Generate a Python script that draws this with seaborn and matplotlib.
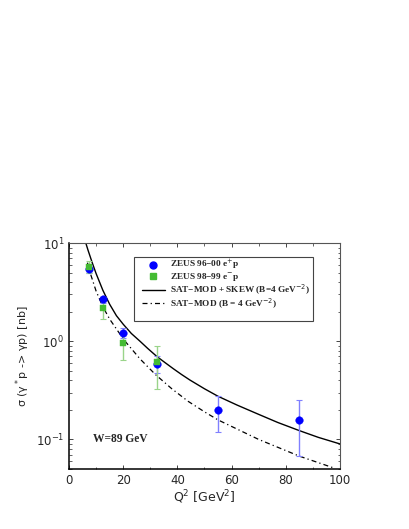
import numpy as np
import pandas as pd
import matplotlib
matplotlib.use('Agg')
import matplotlib.pyplot as plt
import seaborn as sns
from matplotlib.patches import Rectangle
from matplotlib.lines import Line2D

# ZEUS 96-00 e+p data
q2_a = [7.5, 12.5, 20.0, 32.5, 55.0, 85.0]
sig_a = [5.45, 2.68, 1.22, 0.585, 0.199, 0.159]
sig_a_lo = [4.95, 2.47, 1.08, 0.47, 0.12, 0.0685]
sig_a_hi = [5.95, 2.83, 1.37, 0.70, 0.279, 0.25]

# ZEUS 98-99 e-p data
q2_b = [7.5, 12.5, 20.0, 32.5]
sig_b = [5.75, 2.18, 0.96, 0.61]
sig_b_lo = [5.0, 1.70, 0.65, 0.33]
sig_b_hi = [6.6, 2.79, 1.22, 0.89]

# model curves
q2_skew = [6.2, 7.0, 8.6, 10.0, 12.5, 15.0, 17.5, 20.0, 23.0, 26.2, 29.0, 32.4,
           35.5, 38.5, 41.5, 44.6, 50.0, 55.0, 62.0, 70.0, 77.0, 85.0, 92.0, 100.0]
sig_skew = [10.0, 8.49, 6.27, 4.89, 3.30, 2.38, 1.82, 1.49, 1.20, 1.00, 0.847, 0.700,
            0.604, 0.525, 0.459, 0.403, 0.328, 0.275, 0.224, 0.180, 0.149, 0.123, 0.105, 0.090]
q2_sat = [6.8, 8.0, 10.0, 12.5, 15.0, 20.3, 26.2, 32.0, 38.0, 44.0, 50.0,
          55.0, 70.0, 85.0, 98.2]
sig_sat = [6.31, 4.79, 3.24, 2.24, 1.68, 1.03, 0.661, 0.455, 0.327, 0.244, 0.191,
           0.158, 0.100, 0.0676, 0.0507]

sns.set_style('ticks')
plt.rcParams['font.family'] = ['DejaVu Sans']

fig = plt.figure(figsize=(4.09, 5.29), dpi=100)
ax = fig.add_axes([0.1687, 0.1134, 0.6626, 0.4272])

dashdot = (0, (4, 2.5, 1, 2.5))
skew = pd.DataFrame({'q2': q2_skew, 'sig': sig_skew})
sat = pd.DataFrame({'q2': q2_sat, 'sig': sig_sat})
sns.lineplot(data=skew, x='q2', y='sig', ax=ax, color='black', lw=1.0,
             sort=False, estimator=None)
sns.lineplot(data=sat, x='q2', y='sig', ax=ax, color='black', lw=0.9,
             sort=False, estimator=None, linestyle=dashdot)

a = np.array(sig_a)
ax.errorbar(q2_a, a, yerr=[a - np.array(sig_a_lo), np.array(sig_a_hi) - a],
            fmt='none', ecolor='#8080ff', elinewidth=1.0, capsize=2, capthick=0.8)
b = np.array(sig_b)
ax.errorbar(q2_b, b, yerr=[b - np.array(sig_b_lo), np.array(sig_b_hi) - b],
            fmt='none', ecolor='#9ad48a', elinewidth=1.0, capsize=2, capthick=0.8)
sns.scatterplot(x=q2_a, y=sig_a, ax=ax, color='#0000ff', marker='o', s=30,
                edgecolor='#0000ff', linewidth=0.3, zorder=5)
sns.scatterplot(x=q2_b, y=sig_b, ax=ax, color='#44bb33', marker='s', s=22,
                edgecolor='#44bb33', linewidth=0.3, zorder=6)

ax.set_yscale('log')
ax.set_xlim(0, 100)
ax.set_ylim(0.05, 10)
ax.set_xticks([0, 20, 40, 60, 80, 100])
ax.set_xticks(np.arange(10, 100, 20), minor=True)
ax.tick_params(which='both', direction='in', top=True, right=True, labelsize=8.5)
ax.tick_params(which='major', length=3, width=0.6)
ax.tick_params(which='minor', length=1.8, width=0.5)
for s in ['left', 'bottom']:
    ax.spines[s].set_color('black')
    ax.spines[s].set_linewidth(1.1)
for s in ['top', 'right']:
    ax.spines[s].set_color('#555555')
    ax.spines[s].set_linewidth(0.8)

ax.set_xlabel('Q$^2$ [GeV$^2$]', fontsize=9, labelpad=1)
ax.set_ylabel('σ (γ$^*$p -> γp) [nb]', fontsize=8, labelpad=3)

serif = ['Liberation Serif', 'DejaVu Serif']
ax.text(0.089, 0.133, 'W=89 GeV', transform=ax.transAxes, fontsize=8.3,
        fontweight='bold', family=serif, va='center')

ax.add_patch(Rectangle((0.24, 0.655), 0.66, 0.283, transform=ax.transAxes,
                       fill=False, edgecolor='#444444', lw=0.8, zorder=7))
handles = [
    Line2D([], [], color='#0000ff', marker='o', ls='none', markersize=5),
    Line2D([], [], color='#44bb33', marker='s', ls='none', markersize=4.5),
    Line2D([], [], color='black', lw=1.0),
    Line2D([], [], color='black', lw=0.9, ls=dashdot),
]
labels = ['ZEUS 96−00 e$^{+}$p', 'ZEUS 98−99 e$^{-}$p',
          'SAT−MOD + SKEW (B=4 GeV$^{-2}$)', 'SAT−MOD (B = 4 GeV$^{-2}$)']
ax.legend(handles, labels, loc='upper left', bbox_to_anchor=(0.26, 0.945),
          frameon=False, handlelength=2.4, handletextpad=0.6, labelspacing=-0.1,
          borderpad=0.3, borderaxespad=0,
          prop={'family': serif, 'weight': 'bold', 'size': 6.7})

fig.savefig('out.png', dpi=100)
